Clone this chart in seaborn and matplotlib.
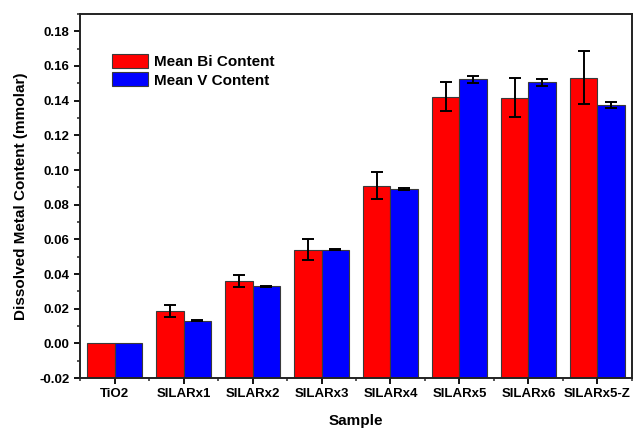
import matplotlib
matplotlib.use("Agg")
import matplotlib.pyplot as plt
from matplotlib.ticker import MultipleLocator, FixedLocator
import numpy as np
import pandas as pd
import seaborn as sns

samples = ["TiO2", "SILARx1", "SILARx2", "SILARx3", "SILARx4",
           "SILARx5", "SILARx6", "SILARx5-Z"]
bi_mean = [0.0, 0.0188, 0.0362, 0.0541, 0.0908, 0.1424, 0.1417, 0.1533]
bi_err = [0.0, 0.0035, 0.0035, 0.0060, 0.0078, 0.0083, 0.0114, 0.0152]
v_mean = [0.0, 0.0130, 0.0329, 0.0541, 0.0890, 0.1523, 0.1507, 0.1374]
v_err = [0.0, 0.0003, 0.0003, 0.0005, 0.0005, 0.0022, 0.0020, 0.0017]
series = ["Mean Bi Content", "Mean V Content"]

y_floor = -0.02
y_ceil = 0.19

df = pd.DataFrame({
    "Sample": samples * 2,
    "Content": bi_mean + v_mean,
    "Series": [series[0]] * len(samples) + [series[1]] * len(samples),
})
errors = {series[0]: bi_err, series[1]: v_err}

sns.set_style("ticks")
plt.rcParams["font.family"] = ["Liberation Sans", "DejaVu Sans"]
plt.rcParams["font.weight"] = "bold"
plt.rcParams["text.color"] = "black"
plt.rcParams["axes.labelcolor"] = "black"

fig = plt.figure(figsize=(6.33, 4.28), dpi=100)
ax = fig.add_axes([0.1264, 0.1168, 0.8720, 0.8505])

sns.barplot(data=df, x="Sample", y="Content", hue="Series",
            palette=["#ff0000", "#0000ff"], errorbar=None, width=0.8,
            edgecolor="#3a3a3a", linewidth=0.8, ax=ax, saturation=1)

# bars rise from the bottom of the axis rather than from zero
for cont in ax.containers:
    for bar in cont:
        top = bar.get_y() + bar.get_height()
        bar.set_y(y_floor)
        bar.set_height(top - y_floor)

for cont, name in zip(ax.containers, series):
    xs = [b.get_x() + b.get_width() / 2 for b in cont]
    ys = [b.get_y() + b.get_height() for b in cont]
    err = errors[name]
    keep = [i for i, e in enumerate(err) if e > 0]
    ax.errorbar([xs[i] for i in keep], [ys[i] for i in keep],
                yerr=[err[i] for i in keep], fmt="none", ecolor="black",
                elinewidth=1.4, capsize=4.2, capthick=1.4, zorder=5)

ax.set_xlim(-0.5, 7.5)
ax.set_ylim(y_floor, y_ceil)
ax.yaxis.set_minor_locator(MultipleLocator(0.01))
ax.xaxis.set_minor_locator(FixedLocator(np.arange(-0.5, 8.0, 1.0)))
yt = np.arange(-0.02, 0.181, 0.02)
ax.set_yticks(yt)
ax.set_yticklabels([f"{v:.2f}" for v in yt])

ax.tick_params(axis="both", which="major", direction="out", length=4,
               width=1.3, labelsize=9.5, colors="black", right=False, top=False)
ax.tick_params(axis="both", which="minor", direction="out", length=2.5,
               width=1.1, right=False, top=False)
for lbl in ax.get_xticklabels() + ax.get_yticklabels():
    lbl.set_fontweight("bold")

for side in ["left", "bottom", "top", "right"]:
    ax.spines[side].set_visible(True)
    ax.spines[side].set_linewidth(1.4)
    ax.spines[side].set_color("#222222")

ax.set_xlabel("Sample", fontsize=11, fontweight="bold", color="black",
              labelpad=10)
ax.set_ylabel("Dissolved Metal Content (mmolar)", fontsize=11,
              fontweight="bold", color="black", labelpad=8)

leg = ax.legend(loc="upper left", bbox_to_anchor=(0.046, 0.906), frameon=False,
                fontsize=11, handlelength=2.4, handleheight=1.0,
                handletextpad=0.4, labelspacing=0.2, borderaxespad=0)
for t in leg.get_texts():
    t.set_fontweight("bold")
    t.set_color("black")

fig.savefig("out.png", dpi=100)
